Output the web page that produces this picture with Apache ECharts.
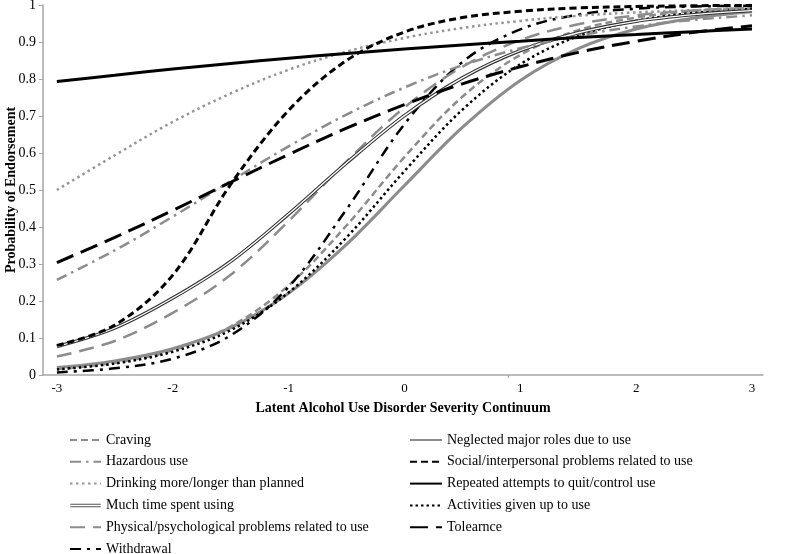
<!DOCTYPE html>
<html><head><meta charset="utf-8">
<script src="https://cdn.jsdelivr.net/npm/echarts@6/dist/echarts.min.js"></script>
<style>html,body{margin:0;padding:0;background:#fff}#c{width:800px;height:554px}</style>
</head><body><div id="c"></div>
<script>
// ---- data ----
const xValues = [-3, -2.5, -2, -1.5, -1, -0.5, 0, 0.5, 1, 1.5, 2, 2.5, 3];
const xTickLabels = [-3, -2, -1, 0, 1, 2, 3];
const craving    = [0.016, 0.033, 0.067, 0.131, 0.242, 0.404, 0.589, 0.752, 0.865, 0.932, 0.966, 0.984, 0.992];
const hazardous  = [0.257, 0.337, 0.428, 0.524, 0.618, 0.704, 0.777, 0.837, 0.883, 0.917, 0.942, 0.960, 0.972];
const drinking   = [0.500, 0.594, 0.684, 0.761, 0.825, 0.874, 0.911, 0.938, 0.957, 0.971, 0.980, 0.986, 0.991];
const muchTime   = [0.077, 0.127, 0.208, 0.307, 0.435, 0.573, 0.701, 0.803, 0.877, 0.925, 0.956, 0.974, 0.985];
const physical   = [0.050, 0.092, 0.168, 0.271, 0.416, 0.577, 0.723, 0.833, 0.905, 0.948, 0.972, 0.985, 0.992];
const withdrawal = [0.007, 0.018, 0.044, 0.107, 0.238, 0.448, 0.678, 0.846, 0.934, 0.974, 0.990, 0.996, 0.998];
const neglected  = [0.020, 0.038, 0.071, 0.128, 0.221, 0.353, 0.512, 0.669, 0.796, 0.882, 0.935, 0.965, 0.982];
const social     = [0.080, 0.135, 0.270, 0.515, 0.715, 0.850, 0.927, 0.966, 0.983, 0.992, 0.996, 0.998, 0.999];
const repeated   = [0.793, 0.810, 0.827, 0.842, 0.856, 0.869, 0.881, 0.892, 0.902, 0.912, 0.920, 0.928, 0.935];
const activities = [0.015, 0.031, 0.063, 0.121, 0.223, 0.372, 0.551, 0.717, 0.840, 0.916, 0.957, 0.979, 0.990];
const tolerance  = [0.304, 0.372, 0.445, 0.521, 0.596, 0.667, 0.731, 0.787, 0.833, 0.872, 0.902, 0.926, 0.944];

const names = {
  craving: 'Craving',
  hazardous: 'Hazardous use',
  drinking: 'Drinking more/longer than planned',
  muchTime: 'Much time spent using',
  physical: 'Physical/psychological problems related to use',
  withdrawal: 'Withdrawal',
  neglected: 'Neglected major roles due to use',
  social: 'Social/interpersonal problems related to use',
  repeated: 'Repeated attempts to quit/control use',
  activities: 'Activities given up to use',
  tolerance: 'Tolearnce'
};

// ---- styling ----
const FONT = '"Liberation Serif","Times New Roman",serif';
const GRAY = '#8c8c8c';
const BLACK = '#000000';

function pts(arr) { return xValues.map((x, i) => [x, arr[i]]); }
function line(name, arr, color, width, type, extra) {
  return Object.assign({
    name: name, type: 'line', data: pts(arr), showSymbol: false, symbol: 'none',
    smooth: 0.35, animation: false, silent: true,
    lineStyle: { color: color, width: width, type: type, cap: 'butt' },
    itemStyle: { color: color, opacity: 0 }
  }, extra || {});
}

const series = [
  line(names.neglected, neglected, GRAY, 3, 'solid'),
  line(names.craving, craving, GRAY, 2.5, [7, 4]),
  line(names.activities, activities, BLACK, 2.5, [2.5, 3]),
  line(names.withdrawal, withdrawal, BLACK, 2.5, [11, 6, 3, 6]),
  line(names.physical, physical, GRAY, 2.5, [15, 8]),
  line(names.muchTime, muchTime, '#333333', 3.5, 'solid'),
  line('muchTimeInner', muchTime, '#ffffff', 1.3, 'solid'),
  line(names.hazardous, hazardous, GRAY, 2.5, [11, 5, 2.5, 5]),
  line(names.tolerance, tolerance, BLACK, 3, [18, 8]),
  line(names.drinking, drinking, '#959595', 2.5, [2.5, 3.5]),
  line(names.social, social, BLACK, 3, [7, 4]),
  line(names.repeated, repeated, BLACK, 3, 'solid')
];

const legendText = { fontFamily: FONT, fontSize: 14, color: '#000', lineHeight: 14 };
const doubleLineIcon = 'path://M0,-4.6L0.01,-4.6Z M0,0H32V1.1H0Z M0,2.5H32V3.6H0Z M0,8L0.01,8Z';

const option = {
  backgroundColor: '#ffffff',
  animation: false,
  grid: { left: 43, right: 37, top: 5, bottom: 179, containLabel: false, outerBoundsMode: 'none' },
  xAxis: {
    type: 'value', min: -3.12, max: 3.095,
    name: 'Latent Alcohol Use Disorder Severity Continuum',
    nameLocation: 'middle', nameGap: 26, nameMoveOverlap: false,
    nameTextStyle: { fontFamily: FONT, fontSize: 14, fontWeight: 'bold', color: '#000' },
    axisLine: { show: true, onZero: false, lineStyle: { color: '#a6a6a6', width: 1.5 } },
    axisTick: { show: true, customValues: [0.9], length: 3, lineStyle: { color: '#a6a6a6' } },
    axisLabel: { customValues: xTickLabels, fontFamily: FONT, fontSize: 13, color: '#000', margin: 7 },
    splitLine: { show: false }
  },
  yAxis: {
    type: 'value', min: 0, max: 1, interval: 0.1,
    name: 'Probability of Endorsement',
    nameLocation: 'middle', nameGap: 25, nameRotate: 90, nameMoveOverlap: false,
    nameTextStyle: { fontFamily: FONT, fontSize: 14, fontWeight: 'bold', color: '#000' },
    axisLine: { show: true, onZero: false, lineStyle: { color: '#a6a6a6', width: 1.5 } },
    axisTick: { show: true, length: 4, lineStyle: { color: '#a6a6a6' } },
    axisLabel: { fontFamily: FONT, fontSize: 14, color: '#000', margin: 7 },
    splitLine: { show: false }
  },
  legend: [
    {
      orient: 'vertical', left: 69, top: 433, height: 200, padding: 0,
      itemWidth: 31, itemHeight: 12, itemGap: 7.8,
      itemStyle: { opacity: 0 },
      textStyle: legendText, selectedMode: false,
      data: [names.craving, names.hazardous, names.drinking,
        { name: names.muchTime, icon: doubleLineIcon, itemStyle: { opacity: 1, color: '#555555' } },
        names.physical, names.withdrawal]
    },
    {
      orient: 'vertical', left: 409, top: 433, height: 200, padding: 0,
      itemWidth: 32, itemHeight: 12, itemGap: 7.8,
      itemStyle: { opacity: 0 },
      textStyle: legendText, selectedMode: false,
      data: [names.neglected, names.social, names.repeated, names.activities, names.tolerance]
    }
  ],
  series: series
};

const chart = echarts.init(document.getElementById('c'), null, { renderer: 'canvas' });
chart.setOption(option);
</script>
</body></html>
